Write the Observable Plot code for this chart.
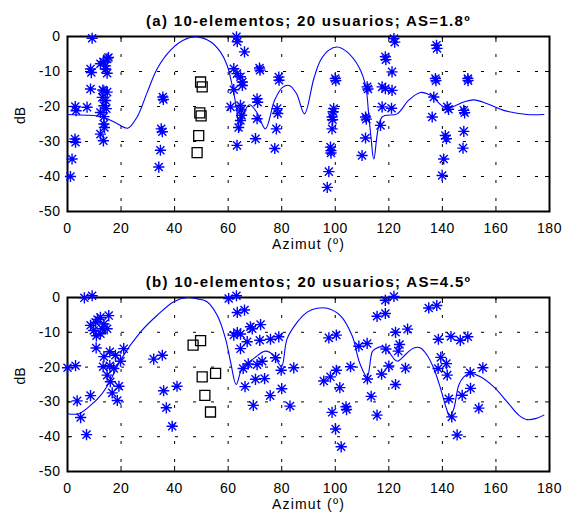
<!DOCTYPE html>
<html><head><meta charset="utf-8">
<script src="https://cdn.jsdelivr.net/npm/d3@7"></script>
<script src="https://cdn.jsdelivr.net/npm/@observablehq/plot@0.6"></script>
<style>
body{margin:0;background:#fff;}
#chart{width:569px;height:517px;}
#chart svg{display:block;}
</style></head><body><div id="chart"></div>
<script>
const xTicks = [0,20,40,60,80,100,120,140,160,180];
const yTicks = [-50,-40,-30,-20,-10,0];
const xLabel = "Azimut (º)";
const yLabel = "dB";
const titleA = "(a) 10-elementos; 20 usuarios; AS=1.8º";
const titleB = "(b) 10-elementos; 20 usuarios; AS=4.5º";

// (a) users (stars): [azimuth, dB]
const aStars = [
[1.1,-40],[1.7,-35],[2.8,-29.3],[3.0,-30.2],[2.9,-20.0],[3.2,-21.2],[7.3,-20.2],
[9.2,-0.5],[8.6,-9.3],[8.9,-10.3],[8.6,-15.0],
[12.3,-7.8],[13.4,-7.2],[14.8,-6.4],[15.3,-6.0],[14.2,-8.4],[14.2,-9.3],[14.8,-10.5],
[13.2,-15.3],[13.6,-15.6],[14.8,-15.9],[13.0,-17.4],[14.2,-18.3],[13.6,-19.8],[14.5,-20.6],[12.3,-21.7],[13.6,-22.9],[13.6,-25.0],[13.8,-26.0],[12.3,-27.9],[13.4,-29.8],
[35.6,-17.3],[35.8,-18.0],[35.0,-26.4],[35.4,-27.2],[34.7,-32.5],[34.1,-37.3],
[63.1,-0.1],[63.4,-1.5],[66.1,-4.4],[62.1,-9.2],[63.3,-10.6],[64.6,-11.5],[65.3,-13.0],[65.3,-14.0],[62.1,-15.2],[60.9,-20.1],[64.6,-19.7],[64.8,-21.0],[65.0,-22.5],[64.6,-24.0],[63.9,-26.0],[63.3,-31.1],
[71.7,-9.0],[71.9,-9.6],[70.8,-17.8],[71.0,-18.8],[70.8,-23.5],[70.2,-29.2],
[78.9,-11.6],[79.0,-12.5],[78.3,-20.6],[78.5,-22.0],[78.0,-26.4],[77.4,-32.0],
[100.0,-12.0],[100.2,-12.6],[99.4,-20.6],[99.2,-21.5],[98.8,-23.0],[99.0,-23.8],[98.8,-26.4],[98.2,-31.6],[98.4,-32.6],[98.4,-33.3],[97.6,-38.6],[97.0,-43.1],
[111.9,-14.4],[112.2,-15.0],[111.3,-23.0],[111.6,-23.6],[111.3,-29.0],[110.0,-34.0],
[121.9,-0.6],[122.2,-1.6],[118.7,-5.8],[118.9,-6.6],[121.2,-10.1],[117.5,-14.4],[118.7,-14.9],[121.2,-15.4],[117.5,-20.1],[121.0,-20.5],[116.9,-25.4],
[137.8,-2.5],[138.0,-3.4],[137.4,-12.0],[137.6,-12.6],[136.8,-17.3],[136.2,-23.0],[141.8,-20.1],[142.3,-20.8],[141.1,-28.3],[141.5,-29.2],[140.5,-35.0],[139.9,-39.7],
[149.5,-12.0],[149.6,-12.6],[148.0,-21.1],[148.3,-21.8],[148.0,-27.1],[147.7,-31.9]
];
const aSquares = [[49.7,-13],[50.3,-14.4],[49.4,-21.8],[49.9,-22.7],[49,-28.3],[48.4,-33.2]];
const aPattern = [
[0,-22.3],[7.4,-22.5],[11.1,-22.7],[13.3,-23],[18.6,-24.9],[22.5,-26.2],[26,-23],[29.8,-15.9],[33.5,-9.2],[38.5,-3.9],[43.4,-1],[48.4,-0.1],[53.4,-1.5],[57.1,-4.4],[59.6,-8.2],[61.5,-14],[63.0,-20],[64.3,-27],[65.5,-22.5],[68,-19.5],[70.8,-21.8],[73.9,-26.4],[77.3,-18.3],[80.2,-14.6],[82.8,-14],[85.5,-16.3],[88.5,-22.1],[92,-12],[94.5,-6.8],[97.6,-3.9],[100.7,-3],[104.4,-4.4],[108.8,-8.7],[111.3,-14],[112.5,-22.5],[113.4,-29.2],[114.4,-35],[117.5,-23],[123.1,-22.1],[127.4,-18.2],[131.8,-16],[135.5,-16.8],[140.5,-20.1],[143.6,-20.1],[148,-18.7],[151.7,-18.1],[156.7,-19.2],[162.9,-21.1],[171.6,-22.3],[177.9,-22.3]
];

// (b)
const bStars = [
[6.3,-0.1],[9.2,0.5],
[8.6,-8.0],[9.8,-9.5],[10.5,-7.1],[10.8,-11.0],[12.3,-5.7],[12.3,-10.4],[13.6,-7.6],[14.8,-9.0],[15.4,-5.2],[11.2,-6.3],[13.0,-9.0],
[10.7,-14.5],[13.6,-17.0],[15.8,-15.6],[17.9,-16.6],[21.0,-14.7],[19.8,-18.3],[13.3,-19.9],[15.8,-19.6],[17.3,-20.4],[14.8,-22.3],[16.0,-24.2],[19.2,-25.5],[16.7,-27.4],[18.6,-29.6],
[0.0,-20.2],[3.0,-19.6],[3.6,-29.7],[8.6,-28.2],[4.9,-34.5],[7.1,-39.4],
[32.2,-17.7],[35.4,-16.6],[35.9,-26.8],[40.9,-25.5],[36.9,-31.7],[39.1,-37.0],
[60.2,-0.3],[63.1,0.5],[63.4,-4.3],[66.1,-3.6],[62.1,-10.8],[63.4,-10.1],[64.6,-10.5],[67.1,-12.7],[64.6,-14.7],[68.3,-8.4],[72.1,-7.8],[69.0,-9.0],[71.8,-12.3],[75.8,-12.0],[78.9,-11.3],
[65.6,-20.4],[67.5,-19.1],[70.8,-19.3],[72.7,-18.3],[77.7,-17.3],[79.8,-20.9],[84.5,-20.2],[70.2,-23.5],[73.6,-23.3],[66.3,-25.6],[80.0,-26.2],[75.7,-28.2],[69.4,-31.0],[83.1,-31.2],
[97.6,-11.6],[100.4,-10.8],[105.7,-19.9],[100.4,-20.9],[95.7,-24.0],[98.2,-22.8],[101.7,-25.9],[98.8,-33.0],[104.0,-31.4],[104.2,-32.2],[100.1,-37.8],[102.2,-42.9],
[108.8,-14.0],[111.9,-13.2],[118.9,-14.8],[123.5,-15.4],[124.0,-13.5],[118.7,-0.8],[121.9,0.3],[115.6,-5.4],[118.7,-4.6],[122.5,-10.0],[127.0,-9.1],
[112.0,-23.4],[117.3,-22.0],[120.0,-19.7],[126.2,-20.3],[122.5,-25.0],[113.4,-28.4],[115.6,-33.8],
[134.9,-3.0],[137.9,-2.3],[138.5,-12.0],[143.2,-11.2],[146.7,-12.3],[149.5,-11.3],[139.4,-17.2],[141.5,-19.0],[138.4,-20.4],[141.8,-22.3],[150.4,-21.6],[155.1,-20.2],[142.4,-29.1],[147.4,-28.1],[150.5,-26.1],[143.5,-34.3],[153.6,-31.8],[145.5,-39.5]
];
const bSquares = [[46.9,-13.7],[49.7,-12.4],[50.3,-22.8],[55.3,-21.8],[51.3,-28.1],[53.4,-32.9]];
const bPattern = [
[0,-33.4],[4.2,-33.4],[8.6,-31],[12.3,-28.2],[16,-23.9],[19.8,-18],[27.3,-9.9],[33.5,-5.1],[39.7,-1.2],[44.7,0],[48.5,-0.4],[52.1,-1.2],[55.9,-5.1],[59,-11.8],[60.9,-18.5],[63,-25],[65.2,-20.4],[69.6,-17.5],[73.9,-15.4],[77,-16.6],[79.9,-19.9],[82,-11.9],[85.8,-7.1],[89.5,-4.2],[93.2,-3.1],[97,-3.1],[101.9,-5.2],[106.3,-11],[109.2,-19],[111.9,-22.8],[113.8,-15.6],[115,-14.7],[118.1,-14.2],[120,-15.6],[123.1,-18.3],[126.6,-16.1],[129.3,-14.5],[131.8,-14.5],[134.3,-16.6],[136.8,-20.4],[139.3,-26.1],[141.5,-31.9],[142.8,-34.3],[144.3,-31.9],[146.1,-25.2],[148,-22.8],[150.5,-21.8],[154.2,-22.8],[159.2,-25.7],[164.2,-30],[168.5,-33.8],[171.6,-35.1],[174.8,-34.8],[177.9,-33.8]
];

// MATLAB-like '*' marker (plus + cross)
const star8 = {draw(ctx, size) {
  const r = Math.sqrt(size / Math.PI), d = r * 0.72;
  ctx.moveTo(-r, 0); ctx.lineTo(r, 0);
  ctx.moveTo(0, -r); ctx.lineTo(0, r);
  ctx.moveTo(-d, -d); ctx.lineTo(d, d);
  ctx.moveTo(-d, d); ctx.lineTo(d, -d);
}};
const squareSym = {draw(ctx, size) {
  const r = Math.sqrt(size / Math.PI);
  ctx.moveTo(-r, -r); ctx.lineTo(r, -r); ctx.lineTo(r, r); ctx.lineTo(-r, r); ctx.closePath();
}};

function panel({title, stars, squares, pattern, height, marginTop, marginBottom}) {
  const tickAxis = (k, anchor) => (k === "x" ? Plot.axisX : Plot.axisY)(k === "x" ? xTicks : yTicks,
      {anchor, tickSize: -5, fill: "none", label: null, stroke: "black"});
  const svg = Plot.plot({
    width: 569, height, marginLeft: 67, marginRight: 20, marginTop, marginBottom,
    style: {fontFamily: "'Liberation Sans', Arial, sans-serif", fontSize: "14px", color: "black", background: "white"},
    x: {domain: [0, 180]},
    y: {domain: [-50, 0]},
    marks: [
      Plot.gridX(xTicks, {stroke: "black", strokeOpacity: 1, strokeDasharray: "3,15"}),
      Plot.gridY(yTicks, {stroke: "black", strokeOpacity: 1, strokeDasharray: "3,15"}),
      tickAxis("x", "bottom"), tickAxis("x", "top"), tickAxis("y", "left"), tickAxis("y", "right"),
      Plot.axisX(xTicks, {anchor: "bottom", tickSize: 0, tickPadding: 12, tickFormat: d => String(d), label: null}),
      Plot.axisY(yTicks, {anchor: "left", tickSize: 0, tickPadding: 7, tickFormat: d => String(d), label: null}),
      Plot.frame({stroke: "black", strokeWidth: 2}),
      Plot.line(pattern, {x: d => d[0], y: d => d[1], stroke: "#0000ff", strokeWidth: 1.1, curve: "catmull-rom"}),
      Plot.dot(stars, {x: d => d[0], y: d => d[1], symbol: star8, r: 5.6, stroke: "#0000ff", fill: "none", strokeWidth: 1.4}),
      Plot.dot(squares, {x: d => d[0], y: d => d[1], symbol: squareSym, r: 5, stroke: "black", fill: "none", strokeWidth: 1.3}),
      Plot.text([title], {frameAnchor: "top", dy: -21, text: d => d, fontWeight: "bold", fontSize: 15}),
      Plot.text([xLabel], {frameAnchor: "bottom", dy: 37, text: d => d}),
      Plot.text([yLabel], {frameAnchor: "left", dx: -47, rotate: -90, text: d => d})
    ]
  });
  d3.select(svg).selectAll("text").each(function() {
    const t = this.textContent;
    if (t === title) this.style.letterSpacing = "1.3px";
    else if (t === xLabel) this.style.letterSpacing = "1.2px";
    else if (/^-?\d+$/.test(t)) this.style.letterSpacing = "0.5px";
  });
  return svg;
}
const el = document.getElementById("chart");
el.append(panel({title: titleA, stars: aStars, squares: aSquares, pattern: aPattern, height: 258, marginTop: 36, marginBottom: 47}));
el.append(panel({title: titleB, stars: bStars, squares: bSquares, pattern: bPattern, height: 259, marginTop: 39, marginBottom: 46}));
</script></body></html>
